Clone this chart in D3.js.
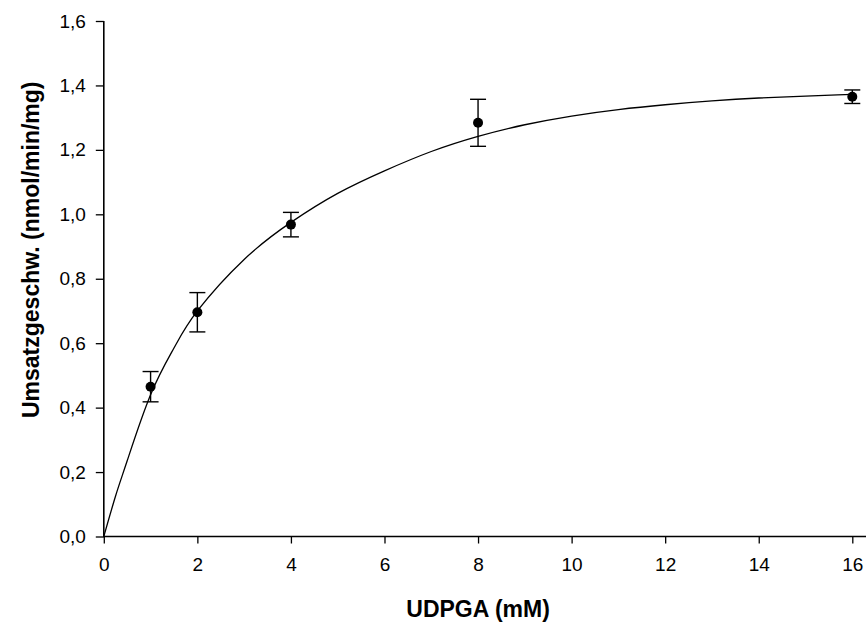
<!DOCTYPE html>
<html>
<head>
<meta charset="utf-8">
<script src="https://cdn.jsdelivr.net/npm/d3@7"></script>
<style>
  html, body { margin: 0; padding: 0; background: #fff; }
  svg { display: block; }
  text { font-family: "Liberation Sans", Arial, sans-serif; fill: #000; }
</style>
</head>
<body>
<svg id="chart" width="866" height="623"></svg>
<script>
// ---- data ----
const substrate = [1, 2, 4, 8, 16];                    // UDPGA (mM)
const rate      = [0.465, 0.696, 0.968, 1.284, 1.365]; // nmol/min/mg
const rateErr   = [0.047, 0.061, 0.038, 0.073, 0.021];

// fitted curve
const curveX = [0, 0.25, 0.5, 1, 1.5, 2, 3, 4, 5, 6, 7, 8, 9, 10, 11, 12, 13, 14, 15, 16];
const curveY = [0, 0.125, 0.235, 0.44, 0.585, 0.70, 0.86, 0.975, 1.065, 1.135, 1.195, 1.242, 1.278, 1.305, 1.325, 1.34, 1.352, 1.361, 1.367, 1.372];

const xTicks = [0, 2, 4, 6, 8, 10, 12, 14, 16];
const yTicks = [0, 0.2, 0.4, 0.6, 0.8, 1.0, 1.2, 1.4, 1.6];
const xTitle = "UDPGA (mM)";
const yTitle = "Umsatzgeschw. (nmol/min/mg)";

// ---- layout ----
const svg = d3.select("#chart");
const x = d3.scaleLinear().domain([0, 16]).range([103.8, 852.3]);
const y = d3.scaleLinear().domain([0, 1.6]).range([536.5, 21]);
const fmt = d => d3.format(".1f")(d).replace(".", ",");

// x axis
const gx = svg.append("g").attr("transform", `translate(0,${y(0)})`)
  .call(d3.axisBottom(x).tickValues(xTicks).tickSize(7).tickSizeOuter(0).tickPadding(14).tickFormat(d3.format("d")));
gx.select(".domain").remove();
gx.append("line").attr("x1", x(0)).attr("x2", 870).attr("y1", 0).attr("y2", 0)
  .attr("stroke", "#000").attr("stroke-width", 1.6);
gx.selectAll(".tick line").attr("stroke", "#000").attr("stroke-width", 1.3);
gx.selectAll(".tick text").attr("font-size", 19).attr("font-family", "Liberation Sans, Arial, sans-serif").attr("fill", "#000");

// y axis
const gy = svg.append("g").attr("transform", `translate(${x(0)},0)`)
  .call(d3.axisLeft(y).tickValues(yTicks).tickSize(8).tickSizeOuter(0).tickPadding(10).tickFormat(fmt));
gy.select(".domain").remove();
gy.append("line").attr("x1", 0).attr("x2", 0).attr("y1", y(1.6)).attr("y2", y(0) + 0.8)
  .attr("stroke", "#000").attr("stroke-width", 1.6);
gy.selectAll(".tick line").attr("stroke", "#000").attr("stroke-width", 1.3);
gy.selectAll(".tick text").attr("font-size", 19).attr("font-family", "Liberation Sans, Arial, sans-serif").attr("fill", "#000");

// curve
const line = d3.line().x(d => x(d[0])).y(d => y(d[1])).curve(d3.curveNatural);
svg.append("path").datum(d3.zip(curveX, curveY))
  .attr("d", line).attr("fill", "none").attr("stroke", "#000").attr("stroke-width", 1.3);

// error bars
const pts = d3.zip(substrate, rate, rateErr);
const eb = svg.append("g").attr("stroke", "#000").attr("stroke-width", 1.4);
eb.selectAll(".v").data(pts).join("line")
  .attr("x1", d => x(d[0])).attr("x2", d => x(d[0]))
  .attr("y1", d => y(d[1] - d[2])).attr("y2", d => y(d[1] + d[2]));
eb.selectAll(".t").data(pts).join("line")
  .attr("x1", d => x(d[0]) - 8).attr("x2", d => x(d[0]) + 8)
  .attr("y1", d => y(d[1] + d[2])).attr("y2", d => y(d[1] + d[2]));
eb.selectAll(".b").data(pts).join("line")
  .attr("x1", d => x(d[0]) - 8).attr("x2", d => x(d[0]) + 8)
  .attr("y1", d => y(d[1] - d[2])).attr("y2", d => y(d[1] - d[2]));

// points
svg.append("g").selectAll("circle").data(pts).join("circle")
  .attr("cx", d => x(d[0])).attr("cy", d => y(d[1])).attr("r", 5).attr("fill", "#000");

// titles
svg.append("text").attr("x", (x(0) + x(16)) / 2).attr("y", 617)
  .attr("text-anchor", "middle").attr("font-size", 23).attr("font-weight", "bold").text(xTitle);
svg.append("text").attr("transform", `translate(39,${y(0.89)}) rotate(-90)`)
  .attr("text-anchor", "middle").attr("font-size", 23).attr("font-weight", "bold").text(yTitle);
</script>
</body>
</html>
